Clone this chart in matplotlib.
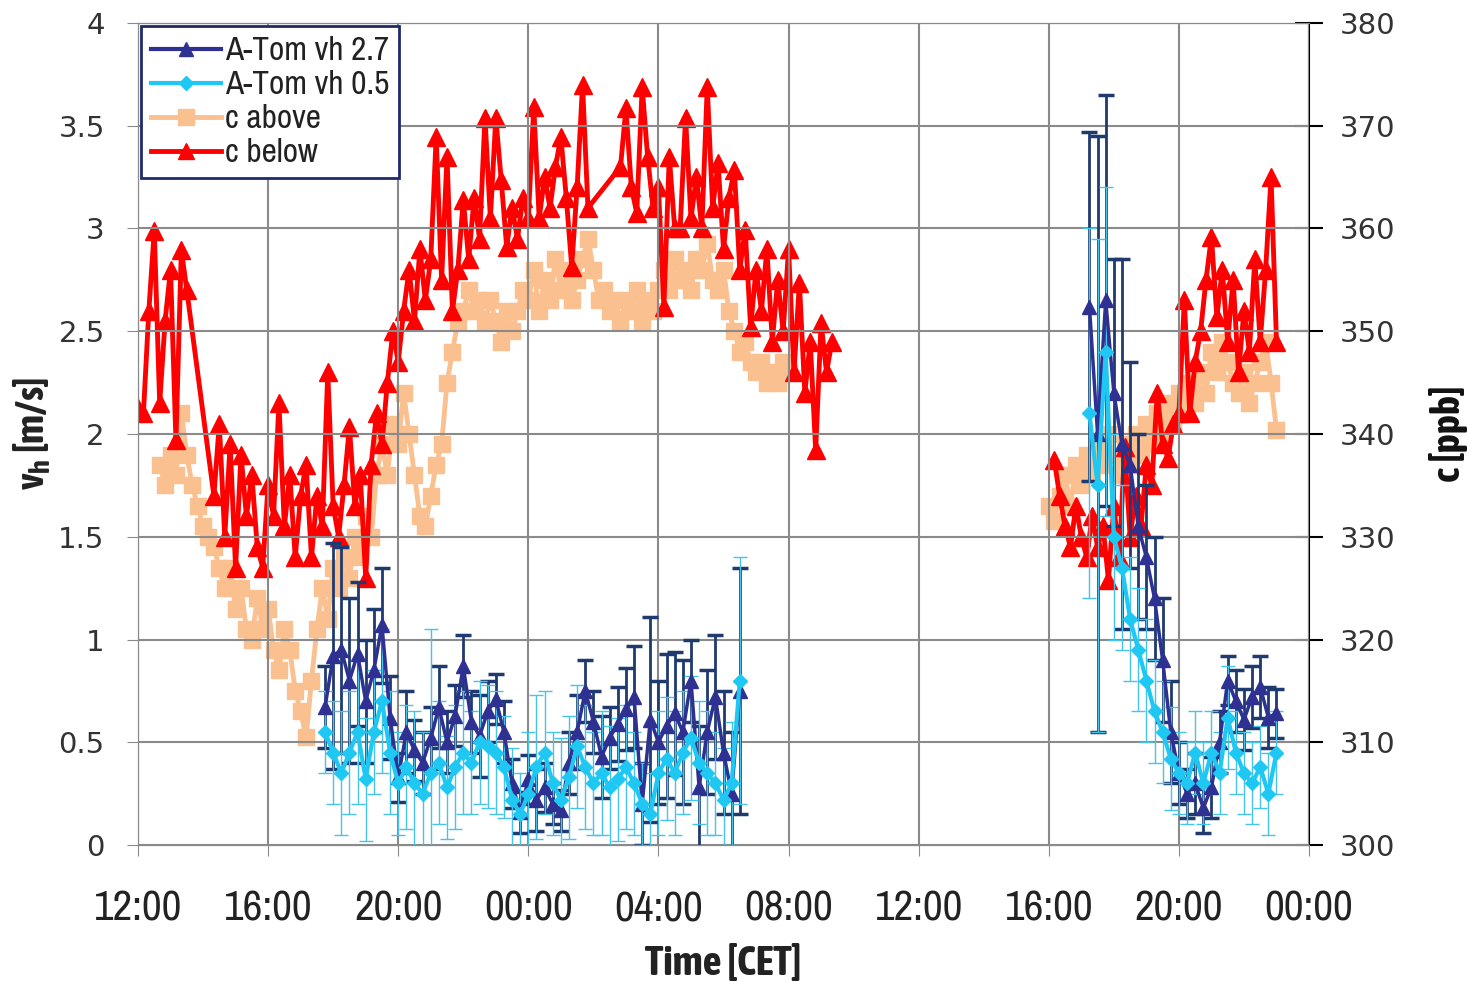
import numpy as np
import matplotlib
matplotlib.use("Agg")
import matplotlib.pyplot as plt
from matplotlib.lines import Line2D

# hours after 12:00 on day 1
x_ticks = [0, 4, 8, 12, 16, 20, 24, 28, 32, 36]
x_labels = ["12:00", "16:00", "20:00", "00:00", "04:00", "08:00",
            "12:00", "16:00", "20:00", "00:00"]

# c below [ppb], 10 min steps
c_below_d1a_start = 0.0          # 12:00
c_below_d1a = [342.5, 342, 352, 359.8, 343, 351, 356, 339.4, 357.9, 354]
c_below_d1b_start = 2 + 20 / 60  # 14:20
c_below_d1b = [334, 341, 330, 339, 327,
               338, 332, 336, 329, 327, 335,
               332, 343, 331, 336, 328, 334,
               337, 328, 334, 331, 346, 333,
               330, 335, 340.7, 333, 336, 326,
               337, 342, 339, 345, 350, 347,
               352, 356, 351, 358, 353, 357,
               368.9, 355, 367, 352, 356, 362.8,
               357, 363, 359, 370.8, 361, 370.8,
               364.7, 358.2, 362, 359, 363, 361,
               371.8, 361, 365, 362, 366, 368.9,
               363, 356.3, 364, 374, 362]
c_below_d1c_start = 14 + 50 / 60  # 02:50
c_below_d1c = [366, 371.7, 364, 361.5, 373.8, 367,
               362, 364, 352.4, 367, 360, 360,
               370.8, 361, 365, 360, 373.8, 362,
               366.4, 358, 363, 365.7, 356, 359.9,
               350.4, 356, 352, 358, 349, 355,
               350, 358, 346, 354.7, 344, 349,
               338.4, 350.8, 346, 349]
c_below_d2_start = 28 + 10 / 60   # 16:10
c_below_d2 = [337.5, 334, 331, 329, 333, 330, 328, 332, 329, 331,
              325.8, 333, 328, 338.7, 330, 334, 331, 337, 335, 344,
              339, 337.7, 341, 342, 353, 342, 347, 350, 355, 359.2,
              351.4, 356, 349, 355, 346, 352, 348, 357, 349, 356,
              365, 349]

# c above [ppb], 10 min steps
c_above_d1_start = 40 / 60        # 12:40
c_above_d1 = [337, 335, 338, 336, 342, 338, 335, 333, 331, 330,
              329, 327, 325, 327, 323, 325, 321, 320, 324, 321,
              323, 319, 317, 321, 319, 315, 313, 310.5, 316, 321,
              325, 322, 327, 325, 328, 326, 330, 328, 332, 330,
              336, 339, 336, 341, 339, 344, 340, 336, 332, 331,
              334, 337, 339, 345, 348, 351, 352, 354, 352, 353,
              351, 353, 351, 349, 352, 350, 352, 354, 353, 356,
              352, 355, 353, 357, 354, 356, 353, 355, 357, 359,
              356, 353, 354, 352, 353, 351, 353, 352, 354, 351,
              353, 352, 354, 356, 354, 357, 355, 356, 354, 357,
              356, 358.5, 355, 354, 356, 352, 350, 348, 349, 347,
              346, 347, 345, 346, 345, 347, 346]
c_above_d2_start = 28.0           # 16:00
c_above_d2 = [333, 331.5, 334, 336, 333, 337, 335, 338, 336, 339,
              337, 340, 338, 336, 339, 337, 340, 338, 341, 339,
              342, 340, 343, 341, 344, 342, 345, 343, 346, 344,
              348, 346, 349, 347, 345, 344, 346, 343, 345, 347,
              349, 345, 340.4]

# A-Tom vh [m/s], 15 min steps
vh_d1_start = 5.75                # 17:45
vh27_d1 = [0.67, 0.92, 0.95, 0.80, 0.93, 0.70, 0.85, 1.07, 0.62, 0.33,
           0.55, 0.46, 0.40, 0.52, 0.67, 0.50, 0.63, 0.87, 0.60, 0.53,
           0.65, 0.71, 0.55, 0.30, 0.16, 0.32, 0.22, 0.28, 0.20, 0.17,
           0.40, 0.55, 0.75, 0.60, 0.43, 0.52, 0.59, 0.66, 0.72, 0.20,
           0.61, 0.50, 0.58, 0.64, 0.55, 0.80, 0.28, 0.55, 0.72, 0.45,
           0.25, 0.75]
vh27_d1_err = [0.2, 0.55, 0.5, 0.4, 0.35, 0.3, 0.3, 0.28, 0.2, 0.12,
               0.2, 0.15, 0.15, 0.15, 0.2, 0.15, 0.15, 0.15, 0.15, 0.2,
               0.15, 0.12, 0.15, 0.12, 0.1, 0.12, 0.15, 0.12, 0.1, 0.1,
               0.15, 0.18, 0.15, 0.15, 0.2, 0.15, 0.18, 0.2, 0.25, 0.2,
               0.5, 0.3, 0.35, 0.3, 0.35, 0.2, 0.3, 0.3, 0.3, 0.3,
               0.3, 0.6]
vh05_d1 = [0.55, 0.45, 0.35, 0.45, 0.55, 0.32, 0.55, 0.70, 0.45, 0.30,
           0.38, 0.30, 0.25, 0.35, 0.40, 0.28, 0.38, 0.45, 0.40, 0.50,
           0.48, 0.45, 0.38, 0.22, 0.15, 0.25, 0.38, 0.45, 0.30, 0.22,
           0.33, 0.48, 0.38, 0.30, 0.35, 0.28, 0.32, 0.38, 0.30, 0.20,
           0.15, 0.35, 0.42, 0.35, 0.45, 0.52, 0.40, 0.35, 0.30, 0.22,
           0.30, 0.80]
vh05_d1_err = [0.2, 0.25, 0.3, 0.3, 0.35, 0.3, 0.3, 0.35, 0.3, 0.25,
               0.3, 0.35, 0.3, 0.7, 0.3, 0.25, 0.3, 0.3, 0.25, 0.3,
               0.3, 0.3, 0.25, 0.25, 0.2, 0.3, 0.35, 0.3, 0.25, 0.3,
               0.3, 0.3, 0.3, 0.25, 0.3, 0.3, 0.3, 0.3, 0.25, 0.2,
               0.2, 0.3, 0.3, 0.3, 0.3, 0.3, 0.3, 0.3, 0.25, 0.25,
               0.3, 0.6]
vh_d2_start = 29.25               # 17:15
vh27_d2 = [2.62, 2.0, 2.65, 2.2, 1.95, 1.85, 1.55, 1.40, 1.20, 0.90,
           0.55, 0.35, 0.25, 0.30, 0.18, 0.28, 0.50, 0.80, 0.70, 0.61,
           0.72, 0.77, 0.62, 0.64]
vh27_d2_err = [0.85, 1.45, 1.0, 0.65, 0.9, 0.5, 0.45, 0.35, 0.3, 0.3,
               0.25, 0.15, 0.12, 0.15, 0.12, 0.15, 0.15, 0.12, 0.15, 0.15,
               0.15, 0.15, 0.15, 0.12]
vh05_d2 = [2.1, 1.75, 2.4, 1.50, 1.35, 1.10, 0.95, 0.80, 0.65, 0.55,
           0.42, 0.35, 0.30, 0.45, 0.30, 0.45, 0.35, 0.62, 0.45, 0.35,
           0.30, 0.38, 0.25, 0.45]
vh05_d2_err = [0.9, 1.2, 0.8, 0.5, 0.4, 0.3, 0.3, 0.3, 0.25, 0.25,
               0.25, 0.2, 0.2, 0.2, 0.2, 0.2, 0.2, 0.25, 0.2, 0.2,
               0.2, 0.2, 0.2, 0.2]


def times(start, values, step):
    return start + step * np.arange(len(values))


def cat(*parts):
    t = np.concatenate([times(s, v, 1 / 6) for s, v in parts])
    y = np.concatenate([np.asarray(v, float) for s, v in parts])
    return t, y


narrow = ["Archivo Narrow", "Liberation Sans"]
narrow_bold = ["Asap Condensed", "Liberation Sans"]
c_red = "#ff0000"
c_peach = "#fac090"
c_navy = "#2e3192"
c_navy_err = "#1f3a6e"
c_cyan = "#1ec8f2"
c_cyan_err = "#45c3ea"

fig = plt.figure(figsize=(14.68, 9.82), dpi=100)
ax = fig.add_axes([0.094, 0.1395, 0.7977, 0.8371])
ax2 = ax.twinx()
ax.set_zorder(ax2.get_zorder() + 1)
ax.patch.set_visible(False)

# concentrations on right axis
for start, vals in [(c_above_d1_start, c_above_d1), (c_above_d2_start, c_above_d2)]:
    t, y = cat((start, vals))
    ax2.plot(t, y, "-s", color=c_peach, lw=3.5, ms=11, mec=c_peach)
t, y = cat((c_below_d1a_start, c_below_d1a), (c_below_d1b_start, c_below_d1b),
           (c_below_d1c_start, c_below_d1c))
ax2.plot(t, y, "-^", color=c_red, lw=3.5, ms=13, mec=c_red)
t, y = cat((c_below_d2_start, c_below_d2))
ax2.plot(t, y, "-^", color=c_red, lw=3.5, ms=13, mec=c_red)

# wind speeds on left axis
for start, v, e in [(vh_d1_start, vh27_d1, vh27_d1_err),
                    (vh_d2_start, vh27_d2, vh27_d2_err)]:
    ax.errorbar(times(start, v, 0.25), v, yerr=e, fmt="-^", color=c_navy,
                lw=2.5, ms=10, ecolor=c_navy_err, elinewidth=2, capsize=6,
                capthick=2.5)
for start, v, e in [(vh_d1_start, vh05_d1, vh05_d1_err),
                    (vh_d2_start, vh05_d2, vh05_d2_err)]:
    ax.errorbar(times(start, v, 0.25), v, yerr=e, fmt="-D", color=c_cyan,
                lw=3, ms=7, ecolor=c_cyan_err, elinewidth=1, capsize=5,
                capthick=1)

ax.set_xlim(0, 36)
ax.set_ylim(0, 4)
ax2.set_ylim(300, 380)
ax.set_yticks(np.arange(0, 4.01, 0.5))
ax.set_yticklabels(["0", "0.5", "1", "1.5", "2", "2.5", "3", "3.5", "4"])
ax2.set_yticks(np.arange(300, 381, 10))
ax.set_xticks(x_ticks)
ax.set_xticklabels(x_labels, family=narrow, fontsize=31, color="#222222")

ax.grid(True, color="#8a8a8a", lw=1.5)
ax.set_axisbelow(True)
for s in ["left", "bottom", "top"]:
    ax.spines[s].set_color("#8a8a8a")
    ax2.spines[s].set_color("#8a8a8a")
ax.spines["right"].set_visible(False)
ax2.spines["right"].set_color("black")
ax2.spines["right"].set_linewidth(1.5)

ax.tick_params(axis="y", direction="out", length=8, color="#8a8a8a",
               labelsize=21, pad=16, labelcolor="#333333")
ax.tick_params(axis="x", direction="out", length=8, color="#8a8a8a", pad=24)
ax2.tick_params(axis="y", direction="inout", length=20, width=1.5,
                labelsize=21, pad=12, labelcolor="#333333")

ax.set_xlabel("Time [CET]", family=narrow_bold, fontsize=30, fontweight="bold",
              labelpad=12, color="#222222")
ax.set_ylabel(r"v$_\mathregular{h}$ [m/s]", family=narrow_bold, fontsize=29,
              fontweight="bold", labelpad=4, color="#222222")
ax2.set_ylabel("c [ppb]", family=narrow_bold, fontsize=29, fontweight="bold",
               labelpad=24, color="#111111")

handles = [
    Line2D([], [], color=c_navy, lw=3, marker="^", ms=10),
    Line2D([], [], color=c_cyan, lw=3, marker="D", ms=7),
    Line2D([], [], color=c_peach, lw=3.5, marker="s", ms=11),
    Line2D([], [], color=c_red, lw=3.5, marker="^", ms=12),
]
labels = ["A-Tom vh 2.7", "A-Tom vh 0.5", "c above", "c below"]
leg = ax.legend(handles, labels, loc="upper left", bbox_to_anchor=(0, 1),
                borderaxespad=0.1, fancybox=False, framealpha=1,
                edgecolor="#1f2a6b", prop={"family": narrow, "size": 24},
                handlelength=2.1, handletextpad=0.1, labelspacing=0.12,
                borderpad=0.3, labelcolor="#222222")
leg.get_frame().set_linewidth(2)

fig.savefig("out.png", dpi=100)
